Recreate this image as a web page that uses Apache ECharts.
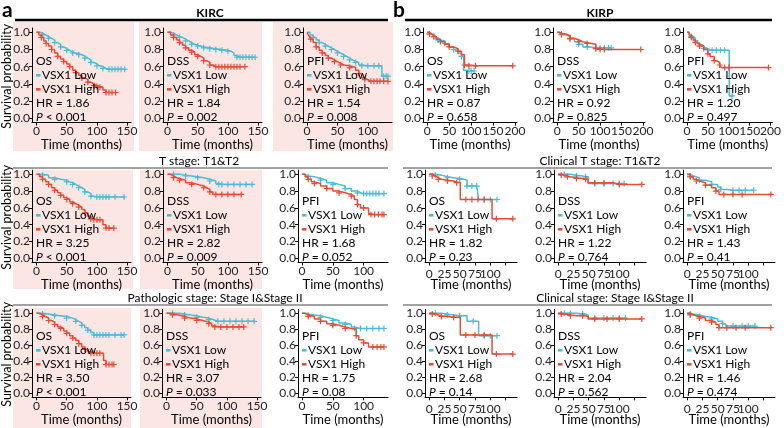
<!DOCTYPE html>
<html><head><meta charset="utf-8">
<script src="https://cdn.jsdelivr.net/npm/echarts@6/dist/echarts.min.js"></script>
<style>html,body{margin:0;padding:0;background:#fff}#c{width:784px;height:428px}</style>
</head><body><div id="c"></div>
<script>
// ---------------- DATA ----------------
const endpoints = ['OS', 'DSS', 'PFI'];
const groupNames = ['VSX1 Low', 'VSX1 High'];
const cohortNames = ['KIRC', 'KIRP'];
const subsetTitles = [null, ['T stage: T1&T2', 'Clinical T stage: T1&T2'], ['Pathologic stage: Stage I&Stage II', 'Clinical stage: Stage I&Stage II']];
const hrValues = [
  ['1.86', '1.84', '1.54', '0.87', '0.92', '1.20'],
  ['3.25', '2.82', '1.68', '1.82', '1.22', '1.43'],
  ['3.50', '3.07', '1.75', '2.68', '2.04', '1.46']
];
const pValues = [
  ['< 0.001', '= 0.002', '= 0.008', '= 0.658', '= 0.825', '= 0.497'],
  ['< 0.001', '= 0.009', '= 0.052', '= 0.23', '= 0.764', '= 0.41'],
  ['< 0.001', '= 0.033', '= 0.08', '= 0.14', '= 0.562', '= 0.474']
];
const yTickValues = [0, 0.2, 0.4, 0.6, 0.8, 1.0];
const followUpMax = [[149, 149, 133, 195, 195, 195], [149, 149, 133, 137, 137, 137], [149, 149, 133, 137, 137, 137]];
const xTickSets = { k150: [0, 50, 100, 150], k100: [0, 50, 100], p200: [0, 50, 100, 150, 200], p25: [0, 25, 50, 75, 100, 125] };
const xLabelSets = { k150: [0, 50, 100, 150], k100: [0, 50, 100], p200: [0, 50, 100, 150, 200], p25: [0, 25, 50, 75, 100] };
const xTickKey = [['k150', 'k150', 'k100', 'p200', 'p200', 'p200'], ['k150', 'k150', 'k100', 'p25', 'p25', 'p25'], ['k150', 'k150', 'k100', 'p25', 'p25', 'p25']];

// [time, survival, censored flag]
const kircOsLow = [[0,1],[5,0.99],[10,0.97,1],[15,0.95],[20,0.93,1],[25,0.91],[30,0.88,1],[35,0.86],[40,0.83,1],[45,0.81],[50,0.79,1],[55,0.77],[60,0.76,1],[65,0.75],[70,0.74,1],[75,0.72],[80,0.70,1],[85,0.68],[90,0.65,1],[95,0.63],[100,0.61,1],[105,0.60],[110,0.58,1],[115,0.57],[120,0.57,1],[125,0.57,1],[130,0.57,1],[135,0.57,1],[140,0.57,1],[146,0.57,1]];
const kircOsHigh = [[0,1],[4,0.97],[8,0.94,1],[12,0.90],[16,0.87,1],[20,0.84],[25,0.80,1],[30,0.76],[35,0.72,1],[40,0.69],[45,0.66,1],[50,0.63],[55,0.60,1],[60,0.56],[65,0.53,1],[70,0.50],[75,0.47,1],[80,0.45],[85,0.42,1],[90,0.40],[95,0.38,1],[100,0.37,1],[105,0.36,1],[110,0.33],[115,0.30,1],[120,0.30,1],[125,0.30,1],[131,0.30,1]];
const kircDssLow = [[0,1],[5,0.99],[10,0.97,1],[15,0.95],[20,0.94,1],[25,0.92],[30,0.90,1],[35,0.88],[40,0.86,1],[45,0.85],[50,0.84,1],[55,0.83],[60,0.82,1],[70,0.81,1],[80,0.80,1],[90,0.79,1],[100,0.78,1],[105,0.76],[110,0.73],[115,0.71,1],[120,0.71,1],[125,0.71,1],[130,0.71,1],[135,0.71,1],[140,0.71,1],[145,0.71,1]];
const kircDssHigh = [[0,1],[5,0.97],[10,0.94,1],[15,0.91],[20,0.88,1],[25,0.85],[30,0.82,1],[35,0.79],[40,0.77,1],[45,0.74],[50,0.72,1],[55,0.70],[60,0.67,1],[65,0.65],[70,0.62,1],[75,0.60],[80,0.60,1],[85,0.60,1],[90,0.60,1],[95,0.60,1],[100,0.60,1],[105,0.60,1],[110,0.60,1],[115,0.60,1],[120,0.60,1],[128,0.60,1]];
const kircPfiLow = [[0,1],[5,0.97],[10,0.94,1],[15,0.91],[20,0.88,1],[25,0.86],[30,0.84,1],[35,0.82],[40,0.80,1],[45,0.78],[50,0.76,1],[55,0.74],[60,0.72,1],[65,0.70],[70,0.68,1],[75,0.66],[80,0.65,1],[85,0.62],[90,0.61,1],[100,0.61,1],[110,0.61,1],[118,0.61,1],[123,0.49],[126,0.49,1],[130,0.49,1],[133,0.49,1]];
const kircPfiHigh = [[0,1],[3,0.96],[6,0.92,1],[10,0.88],[15,0.83,1],[20,0.79],[25,0.76,1],[30,0.73],[35,0.70,1],[40,0.68],[45,0.66,1],[50,0.64],[55,0.62,1],[60,0.61],[70,0.59,1],[80,0.56],[85,0.52,1],[90,0.47],[95,0.45,1],[100,0.43],[105,0.43,1],[110,0.43,1],[115,0.43,1],[120,0.43,1],[126,0.43,1],[133,0.43,1]];
const kirpOsLow = [[0,1],[5,0.98,1],[10,0.96],[15,0.95,1],[20,0.93],[25,0.91,1],[30,0.90],[40,0.87,1],[50,0.83],[60,0.80,1],[70,0.76],[78,0.72,1],[83,0.56],[90,0.55],[95,0.55,1],[100,0.55,1],[107,0.55,1]];
const kirpOsHigh = [[0,1],[5,0.98,1],[10,0.96],[15,0.95,1],[20,0.92],[30,0.89,1],[40,0.86],[50,0.83,1],[60,0.81],[70,0.78,1],[78,0.74],[85,0.62,1],[95,0.61,1],[110,0.61,1],[130,0.61],[160,0.61],[195,0.61,1]];
const kirpDssLow = [[0,1],[5,0.98],[10,0.97,1],[20,0.95],[30,0.92,1],[40,0.89],[50,0.86,1],[60,0.83],[70,0.83,1],[80,0.82],[90,0.82,1],[100,0.82,1],[110,0.82,1],[120,0.82,1],[126,0.82,1]];
const kirpDssHigh = [[0,1],[5,0.99],[10,0.98,1],[20,0.96],[30,0.93,1],[40,0.91],[50,0.89,1],[60,0.88],[70,0.87,1],[80,0.86],[90,0.81,1],[100,0.80,1],[110,0.80,1],[130,0.80],[160,0.80],[195,0.80,1]];
const kirpPfiLow = [[0,1],[5,0.97],[10,0.95,1],[15,0.93],[20,0.90,1],[25,0.87],[30,0.85,1],[35,0.83],[40,0.81,1],[50,0.79],[60,0.79,1],[70,0.79,1],[80,0.79,1],[90,0.79,1],[101,0.26],[108,0.26,1]];
const kirpPfiHigh = [[0,1],[5,0.97],[10,0.94,1],[15,0.91],[20,0.88,1],[25,0.86],[30,0.84,1],[40,0.80],[50,0.75,1],[55,0.72],[65,0.67,1],[70,0.65],[78,0.62,1],[82,0.59],[90,0.59,1],[100,0.59,1],[130,0.59],[160,0.59],[195,0.59,1]];

const kircTOsLow = [[0,1],[10,0.99,1],[20,0.96],[30,0.94,1],[40,0.93],[50,0.91,1],[55,0.90],[60,0.88,1],[65,0.86],[70,0.84,1],[75,0.82],[80,0.79,1],[85,0.77],[90,0.74,1],[95,0.73],[100,0.73,1],[105,0.73,1],[110,0.73,1],[115,0.73,1],[120,0.73,1],[130,0.73,1],[145,0.73,1]];
const kircTOsHigh = [[0,1],[5,0.97],[10,0.94,1],[15,0.91],[20,0.88,1],[25,0.84],[30,0.81,1],[35,0.78],[40,0.75,1],[45,0.72],[50,0.70,1],[55,0.67],[60,0.65,1],[65,0.63],[70,0.61,1],[75,0.58],[80,0.54,1],[85,0.50],[90,0.47,1],[95,0.46,1],[100,0.46,1],[105,0.46,1],[110,0.40],[115,0.36,1],[120,0.36,1],[128,0.36,1]];
const kircTDssLow = [[0,1],[10,1.0,1],[20,0.99],[30,0.98,1],[40,0.97],[50,0.96,1],[60,0.94],[70,0.92,1],[80,0.89],[85,0.88,1],[90,0.88,1],[100,0.88,1],[110,0.88,1],[120,0.88,1],[130,0.88,1],[140,0.88,1]];
const kircTDssHigh = [[0,1],[5,0.98],[10,0.96,1],[15,0.95],[20,0.93,1],[30,0.90],[40,0.88,1],[50,0.86],[60,0.84,1],[65,0.82],[70,0.79,1],[75,0.76],[80,0.76,1],[90,0.76,1],[100,0.76,1],[110,0.76,1],[122,0.76,1]];
const kircTPfiLow = [[0,1],[5,0.98],[10,0.97,1],[20,0.95],[30,0.93,1],[40,0.90],[50,0.88,1],[60,0.86],[70,0.83,1],[80,0.80],[90,0.78,1],[95,0.77],[100,0.77,1],[105,0.77,1],[110,0.77,1],[115,0.77,1],[120,0.77,1],[125,0.77,1],[133,0.77,1]];
const kircTPfiHigh = [[0,1],[5,0.97],[10,0.94,1],[15,0.91],[20,0.89,1],[30,0.86],[40,0.83,1],[50,0.80],[60,0.78,1],[70,0.76],[80,0.74,1],[85,0.70],[90,0.64,1],[95,0.60],[100,0.60,1],[108,0.53],[112,0.52,1],[118,0.52,1],[124,0.52,1],[130,0.52,1],[133,0.52,1]];
const kirpTOsLow = [[0,1],[10,0.99,1],[20,0.97],[30,0.96,1],[40,0.95],[50,0.94,1],[58,0.93],[62,0.86,1],[70,0.86,1],[78,0.86,1],[81,0.70],[90,0.70,1],[100,0.70,1],[111,0.70,1]];
const kirpTOsHigh = [[0,1],[5,0.98,1],[10,0.96],[15,0.94,1],[20,0.93],[30,0.92,1],[40,0.91],[45,0.90,1],[51,0.70],[60,0.70,1],[70,0.70,1],[80,0.70,1],[90,0.70,1],[103,0.47],[110,0.47,1],[137,0.47,1]];
const kirpTDssLow = [[0,1],[10,1.0,1],[20,0.99],[30,0.98,1],[40,0.97],[45,0.97,1],[49,0.89],[60,0.89,1],[75,0.89,1],[90,0.89,1],[100,0.89,1],[108,0.89,1]];
const kirpTDssHigh = [[0,1],[5,0.99,1],[10,0.98],[15,0.97,1],[20,0.96],[30,0.95,1],[40,0.94],[45,0.94,1],[49,0.90],[60,0.90,1],[75,0.90,1],[90,0.88],[100,0.88,1],[115,0.88],[137,0.88,1]];
const kirpTPfiLow = [[0,1],[5,0.98,1],[10,0.96],[20,0.93,1],[30,0.91],[40,0.88,1],[50,0.85],[55,0.82,1],[65,0.81],[75,0.81,1],[85,0.81,1],[95,0.81,1],[109,0.81,1]];
const kirpTPfiHigh = [[0,1],[5,0.97,1],[10,0.94],[15,0.92,1],[20,0.90],[30,0.87,1],[40,0.84],[47,0.80,1],[52,0.76],[60,0.76,1],[75,0.76,1],[90,0.76,1],[110,0.76],[137,0.76,1]];

const kircSOsLow = [[0,1],[10,0.99,1],[20,0.98],[30,0.97,1],[40,0.96],[50,0.94,1],[60,0.92],[65,0.90,1],[70,0.88],[75,0.85,1],[80,0.82],[85,0.79,1],[90,0.76],[95,0.73,1],[100,0.73,1],[105,0.73,1],[110,0.73,1],[115,0.73,1],[120,0.73,1],[130,0.73,1],[140,0.73,1],[145,0.73,1]];
const kircSOsHigh = [[0,1],[5,0.98],[10,0.96,1],[15,0.94],[20,0.91,1],[25,0.89],[30,0.86,1],[35,0.83],[40,0.81,1],[45,0.78],[50,0.75,1],[55,0.72],[60,0.69,1],[65,0.66],[70,0.62,1],[75,0.58],[80,0.55,1],[85,0.52],[90,0.50,1],[95,0.50,1],[100,0.50,1],[105,0.50,1],[111,0.41],[115,0.36,1],[120,0.36,1],[125,0.36,1],[128,0.36,1]];
const kircSDssLow = [[0,1],[10,1.0,1],[20,0.99],[30,0.98,1],[40,0.97],[50,0.95,1],[60,0.94],[70,0.92,1],[78,0.90],[85,0.90,1],[95,0.90,1],[105,0.90,1],[115,0.90,1],[125,0.90,1],[135,0.90,1],[145,0.90,1]];
const kircSDssHigh = [[0,1],[5,0.99],[10,0.98,1],[20,0.96],[30,0.94,1],[40,0.93],[50,0.91,1],[60,0.89],[70,0.87,1],[75,0.84],[80,0.83,1],[90,0.83,1],[100,0.83,1],[110,0.83,1],[120,0.83,1],[128,0.83,1]];
const kircSPfiLow = [[0,1],[5,0.99],[10,0.98,1],[20,0.97],[30,0.95,1],[40,0.93],[50,0.91,1],[60,0.88],[70,0.86,1],[80,0.83],[85,0.81,1],[95,0.81,1],[105,0.81,1],[115,0.81,1],[125,0.81,1],[133,0.81,1]];
const kircSPfiHigh = [[0,1],[5,0.98],[10,0.96,1],[20,0.93],[30,0.90,1],[40,0.87],[50,0.85,1],[60,0.83],[70,0.81,1],[80,0.80],[88,0.72,1],[92,0.67],[100,0.63,1],[108,0.58],[115,0.58,1],[122,0.58,1],[128,0.58,1],[133,0.58,1]];
const kirpSOsLow = [[0,1],[10,1.0,1],[20,0.99],[30,0.98,1],[40,0.97],[50,0.97,1],[62,0.90],[72,0.90,1],[81,0.72],[90,0.72,1],[100,0.72,1],[111,0.72,1]];
const kirpSOsHigh = [[0,1],[5,0.99,1],[10,0.97],[20,0.96,1],[30,0.95],[40,0.95,1],[51,0.73],[60,0.73,1],[75,0.73,1],[90,0.73,1],[103,0.49],[110,0.49,1],[137,0.49,1]];
const kirpSDssLow = [[0,1],[10,1.0,1],[20,1.0,1],[30,0.99],[40,0.99,1],[45,0.98],[49,0.94],[60,0.94,1],[75,0.94,1],[90,0.94,1],[100,0.94,1],[110,0.94,1]];
const kirpSDssHigh = [[0,1],[5,0.99,1],[10,0.98],[20,0.97,1],[30,0.97],[40,0.97,1],[45,0.96],[49,0.93],[60,0.93,1],[80,0.93,1],[100,0.93,1],[120,0.93],[137,0.93,1]];
const kirpSPfiLow = [[0,1],[5,0.99,1],[10,0.98],[20,0.96,1],[30,0.95],[40,0.93,1],[50,0.90],[58,0.87,1],[63,0.84],[75,0.84,1],[90,0.84,1],[100,0.84,1],[111,0.84,1]];
const kirpSPfiHigh = [[0,1],[5,0.98,1],[10,0.96],[20,0.94,1],[30,0.91],[40,0.89,1],[47,0.86],[52,0.82,1],[65,0.82,1],[80,0.82,1],[95,0.82,1],[110,0.82],[137,0.82,1]];

const curves = [
  [[kircOsLow, kircOsHigh], [kircDssLow, kircDssHigh], [kircPfiLow, kircPfiHigh], [kirpOsLow, kirpOsHigh], [kirpDssLow, kirpDssHigh], [kirpPfiLow, kirpPfiHigh]],
  [[kircTOsLow, kircTOsHigh], [kircTDssLow, kircTDssHigh], [kircTPfiLow, kircTPfiHigh], [kirpTOsLow, kirpTOsHigh], [kirpTDssLow, kirpTDssHigh], [kirpTPfiLow, kirpTPfiHigh]],
  [[kircSOsLow, kircSOsHigh], [kircSDssLow, kircSDssHigh], [kircSPfiLow, kircSPfiHigh], [kirpSOsLow, kirpSOsHigh], [kirpSDssLow, kirpSDssHigh], [kirpSPfiLow, kirpSPfiHigh]]
];

// ---------------- LAYOUT / STYLE ----------------
const COLORS = ['#4DBBD5', '#E64B35'];
const FONT = 'Lato, "Noto Sans", sans-serif';
const PINK = '#FCE6E4';
const rowY1 = [32.3, 174.3, 313.3], rowY0 = [118.3, 258.3, 393.3];
const colL = [[32, 163, 303, 423, 553, 683], [32, 163, 298, 425, 554, 683], [32, 162, 298, 425, 554, 683]];
const colR = [[131, 262, 392, 517, 645, 777], [131, 262, 388, 517, 646, 775], [131, 261, 388, 517, 646, 775]];
const pinkRects = [[13, 22, 121, 129], [139, 22, 123, 129], [273, 22, 120, 129], [13, 170, 120, 119], [140, 170, 122, 119], [13, 308, 118, 120], [140, 308, 122, 120]];
const CROSS = 'path://M4,0h2v4h4v2h-4v4h-2v-4h-4v-2h4z';

const grids = [], xAxes = [], yAxes = [], series = [], graphics = [];

pinkRects.forEach(r => graphics.push({ type: 'rect', shape: { x: r[0], y: r[1], width: r[2], height: r[3] }, style: { fill: PINK }, z: -10, silent: true }));

function text(x, y, t, o) {
  o = o || {};
  return {
    type: 'text', x: x, y: y, z: 100, silent: true, rotation: o.rotation || 0,
    style: Object.assign({
      text: t, fill: o.fill || '#000',
      font: (o.weight || 'normal') + ' ' + (o.size || 12) + 'px ' + FONT,
      textAlign: o.align || 'left', textVerticalAlign: o.valign || 'middle', align: o.align || 'left', verticalAlign: o.valign || 'middle'
    }, o.style || {})
  };
}
function line(x1, y1, x2, y2, w, c) {
  return { type: 'line', shape: { x1: x1, y1: y1, x2: x2, y2: y2 }, style: { stroke: c, lineWidth: w }, z: 50, silent: true };
}

// headers
graphics.push(text(2, 10, 'a', { weight: 'bold', size: 21 }));
graphics.push(text(393, 10, 'b', { weight: 'bold', size: 21 }));
graphics.push(line(15, 20, 388, 20, 2.4, '#000'));
graphics.push(line(405, 20, 772, 20, 2.4, '#000'));
graphics.push(text(210, 13, cohortNames[0], { weight: 'bold', size: 12, align: 'center' }));
graphics.push(text(600, 13, cohortNames[1], { weight: 'bold', size: 12, align: 'center' }));
const subTitleY = [null, 161.5, 298.5], subLineY = [null, 168, 305];
const subTitleX = [null, [199, 600], [215, 615]];
for (let r = 1; r < 3; r++) {
  graphics.push(line(13, subLineY[r], 388, subLineY[r], 1, '#444'));
  graphics.push(line(403, subLineY[r], 772, subLineY[r], 1, '#444'));
  graphics.push(text(subTitleX[r][0], subTitleY[r], subsetTitles[r][0], { align: 'center' }));
  graphics.push(text(subTitleX[r][1], subTitleY[r], subsetTitles[r][1], { align: 'center' }));
}

const manualLabelPanels = [];
for (let r = 0; r < 3; r++) {
  const y1 = rowY1[r], y0 = rowY0[r], h = y0 - y1;
  graphics.push(text(7, (y1 + y0) / 2 + 1, 'Survival probability', { align: 'center', rotation: Math.PI / 2, size: 12.5 }));
  for (let c = 0; c < 6; c++) {
    const i = r * 6 + c;
    const L = colL[r][c], R = colR[r][c], M = followUpMax[r][c];
    grids.push({ left: L, top: y1 - 0.05 * h, width: R - L, height: 1.1 * h, containLabel: false });
    const key = xTickKey[r][c];
    const manual = key === 'p25';
    if (manual) manualLabelPanels.push({ i: i, key: key, y: y0 + 0.05 * h + 6 });
    xAxes.push({
      gridIndex: i, type: 'value', min: -0.05 * M, max: 1.05 * M,
      axisLine: { show: true, onZero: false, lineStyle: { color: '#000', width: 1 } },
      axisTick: { show: true, length: 3, customValues: xTickSets[key], lineStyle: { color: '#000' } },
      axisLabel: {
        show: !manual, customValues: xLabelSets[key], interval: 0, hideOverlap: false,
        margin: 3, fontFamily: FONT, fontSize: 12, color: '#222'
      },
      splitLine: { show: false },
      name: 'Time (months)', nameLocation: 'middle', nameGap: 16,
      nameTextStyle: { fontFamily: FONT, fontSize: 13, color: '#000' }
    });
    yAxes.push({
      gridIndex: i, type: 'value', min: -0.05, max: 1.05,
      axisLine: { show: true, onZero: false, lineStyle: { color: '#000', width: 1 } },
      axisTick: { show: true, length: 3, customValues: yTickValues, lineStyle: { color: '#000' } },
      axisLabel: { customValues: yTickValues, interval: 0, hideOverlap: false, margin: 2, fontFamily: FONT, fontSize: 12, color: '#222', formatter: v => v.toFixed(1) },
      splitLine: { show: false }
    });
    curves[r][c].forEach((d, g) => {
      series.push({
        type: 'line', xAxisIndex: i, yAxisIndex: i, data: d, step: 'end',
        showSymbol: true, showAllSymbol: true,
        symbol: v => (v[2] ? CROSS : 'none'), symbolSize: 6, symbolKeepAspect: true,
        lineStyle: { color: COLORS[g], width: 1.5 }, itemStyle: { color: COLORS[g] },
        animation: false, silent: true, z: 2 + g
      });
    });
    // annotations
    const ax = L;
    graphics.push(text(ax + 4, y0 - 57, endpoints[c % 3]));
    groupNames.forEach((gname, g) => {
      const yy = y0 - 43 + g * 14;
      graphics.push({ type: 'rect', shape: { x: ax + 4, y: yy - 1.3, width: 4.5, height: 2.6 }, style: { fill: COLORS[g] }, z: 100, silent: true });
      graphics.push(text(ax + 10, yy, gname));
    });
    graphics.push(text(ax + 4, y0 - 15, 'HR = ' + hrValues[r][c]));
    graphics.push(text(ax + 4, y0 - 1, '{i|P} ' + pValues[r][c], {
      style: { rich: { i: { fontStyle: 'italic', fontFamily: FONT, fontSize: 12, fill: '#000' } } }
    }));
  }
}

const chart = echarts.init(document.getElementById('c'), null, { renderer: 'canvas' });
chart.setOption({
  animation: false,
  backgroundColor: '#fff',
  grid: grids, xAxis: xAxes, yAxis: yAxes, series: series,
  graphic: { elements: graphics }
});
// crowded tick labels: placed at the axis scale positions (library converts values to pixels)
manualLabelPanels.forEach(p => {
  xLabelSets[p.key].forEach(v => {
    const px = chart.convertToPixel({ xAxisIndex: p.i }, v);
    graphics.push(text(px, p.y, String(v), { align: 'center', valign: 'top', fill: '#222' }));
  });
});
chart.setOption({ graphic: { elements: graphics } }, { replaceMerge: ['graphic'] });
</script>
</body></html>
